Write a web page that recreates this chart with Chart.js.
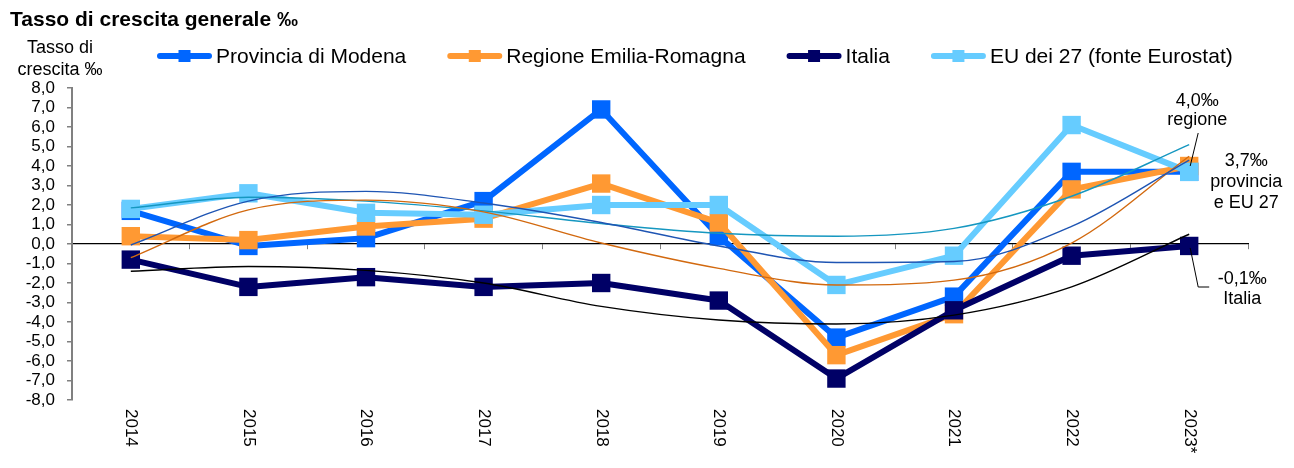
<!DOCTYPE html>
<html>
<head>
<meta charset="utf-8">
<script src="https://cdn.jsdelivr.net/npm/chart.js@4.4.1/dist/chart.umd.min.js"></script>
<style>
  html, body { margin: 0; padding: 0; background: #fff; }
  #wrap { width: 1294px; height: 468px; }
</style>
</head>
<body>
<div id="wrap"><canvas id="chart"></canvas></div>
<script>
// Tasso di crescita generale ‰
const YEARS = ['2014', '2015', '2016', '2017', '2018', '2019', '2020', '2021', '2022', '2023*'];

const MODENA   = [1.7, -0.1, 0.3, 2.2, 6.9, 0.4, -4.8, -2.7, 3.7, 3.7];
const REGIONE  = [0.4, 0.2, 0.9, 1.3, 3.1, 1.1, -5.7, -3.6, 2.8, 4.0];
const ITALIA   = [-0.8, -2.2, -1.7, -2.2, -2.0, -2.9, -6.9, -3.4, -0.6, -0.1];
const EU27     = [1.8, 2.6, 1.6, 1.5, 2.0, 2.0, -2.1, -0.6, 6.1, 3.7];

// thin trend lines at each year
const MODENA_TREND  = [-0.05, 2.2, 2.7, 2.1, 1.1, -0.1, -0.95, -0.9, 0.9, 4.3];
const REGIONE_TREND = [-0.7, 1.75, 2.25, 1.65, 0.05, -1.25, -2.1, -1.85, 0.05, 4.5];
const ITALIA_TREND  = [-1.4, -1.15, -1.35, -2.0, -3.2, -3.9, -4.1, -3.65, -2.2, 0.5];
const EU27_TREND    = [1.85, 2.4, 2.2, 1.7, 1.05, 0.55, 0.4, 0.8, 2.45, 5.1];

const Y_MIN = -8;
const Y_MAX = 8;
const Y_STEP = 1;

const FONT = "'Liberation Sans', Arial, sans-serif";

function mainSeries(label, data, color, order) {
  return {
    label, data, order,
    borderColor: color,
    backgroundColor: color,
    borderWidth: 6,
    borderJoinStyle: 'round',
    pointStyle: 'rect',
    pointRadius: 13,
    pointBorderWidth: 0,
    pointBackgroundColor: color,
    tension: 0,
  };
}

function trendSeries(data, color) {
  return {
    label: '_trend', data, order: 0,
    borderColor: color,
    borderWidth: 1.4,
    pointRadius: 0,
    cubicInterpolationMode: 'monotone',
    fill: false,
  };
}

// titles, legend, rotated year labels and end-of-line notes
const decor = {
  id: 'decor',
  afterDraw(chart) {
    const { ctx, chartArea } = chart;
    const xs = chart.scales.x, ys = chart.scales.y;
    ctx.save();
    ctx.fillStyle = '#000';
    ctx.textBaseline = 'alphabetic';

    ctx.font = 'bold 21px ' + FONT;
    ctx.textAlign = 'left';
    ctx.fillText('Tasso di crescita generale ‰', 10, 26);

    ctx.font = '18px ' + FONT;
    ctx.textAlign = 'center';
    ctx.fillText('Tasso di', 60, 53);
    ctx.fillText('crescita ‰', 60, 75);

    // legend
    ctx.font = '21px ' + FONT;
    ctx.textAlign = 'left';
    let lx = 157;
    const ly = 56;
    chart.data.datasets.slice(0, 4).forEach(ds => {
      ctx.strokeStyle = ds.borderColor;
      ctx.lineWidth = 6;
      ctx.lineCap = 'round';
      ctx.beginPath();
      ctx.moveTo(lx + 3, ly);
      ctx.lineTo(lx + 52, ly);
      ctx.stroke();
      ctx.fillStyle = ds.borderColor;
      ctx.fillRect(lx + 21.5, ly - 6, 12, 12);
      ctx.fillStyle = '#000';
      ctx.fillText(ds.label, lx + 59, ly + 7);
      lx += 59 + ctx.measureText(ds.label).width + 41;
    });

    // year labels, turned clockwise
    ctx.font = '17px ' + FONT;
    YEARS.forEach((yr, i) => {
      ctx.save();
      ctx.translate(xs.getPixelForValue(i), chartArea.bottom + 9);
      ctx.rotate(Math.PI / 2);
      ctx.textAlign = 'left';
      ctx.textBaseline = 'middle';
      ctx.fillText(yr, 0, 0);
      ctx.restore();
    });

    // notes on the last year
    const last = YEARS.length - 1;
    const px = xs.getPixelForValue(last);
    const pReg = ys.getPixelForValue(REGIONE[last]);
    const pIta = ys.getPixelForValue(ITALIA[last]);
    ctx.font = '18px ' + FONT;
    ctx.textAlign = 'center';
    ctx.fillText('4,0‰', px + 8, 106);
    ctx.fillText('regione', px + 8, 125);
    ctx.fillText('3,7‰', px + 57, 166);
    ctx.fillText('provincia', px + 57, 187);
    ctx.fillText('e EU 27', px + 57, 208);
    ctx.fillText('-0,1‰', px + 53, 284);
    ctx.fillText('Italia', px + 53, 304);

    ctx.strokeStyle = '#000';
    ctx.lineWidth = 1;
    ctx.lineCap = 'butt';
    ctx.beginPath();
    ctx.moveTo(px + 9, 133);
    ctx.lineTo(px + 1, pReg);
    ctx.moveTo(px + 1, pIta + 2);
    ctx.lineTo(px + 9, 287);
    ctx.lineTo(px + 20, 287);
    ctx.stroke();
    ctx.restore();
  }
};

new Chart(document.getElementById('chart'), {
  type: 'line',
  data: {
    labels: YEARS,
    datasets: [
      mainSeries('Provincia di Modena', MODENA, '#0066ff', 4),
      mainSeries('Regione Emilia-Romagna', REGIONE, '#ff9933', 3),
      mainSeries('Italia', ITALIA, '#000066', 2),
      mainSeries('EU dei 27 (fonte Eurostat)', EU27, '#66ccff', 1),
      trendSeries(MODENA_TREND, '#1f55b3'),
      trendSeries(REGIONE_TREND, '#d2690f'),
      trendSeries(ITALIA_TREND, '#000000'),
      trendSeries(EU27_TREND, '#1597c0'),
    ]
  },
  options: {
    responsive: true,
    maintainAspectRatio: false,
    animation: false,
    layout: { padding: { top: 88, bottom: 68, left: 0, right: 46 } },
    plugins: {
      legend: { display: false },
      tooltip: { enabled: false },
    },
    scales: {
      x: {
        offset: true,
        position: { y: 0 },
        grid: { offset: true, drawOnChartArea: false, drawTicks: true, tickLength: 5, color: '#808080' },
        border: { color: '#000', width: 1.2 },
        ticks: { display: false },
      },
      y: {
        min: Y_MIN, max: Y_MAX,
        afterFit: s => { s.width = 72; },
        grid: { drawOnChartArea: false, drawTicks: true, tickLength: 5, color: '#808080', lineWidth: 1.5 },
        border: { color: '#808080', width: 2 },
        ticks: {
          stepSize: Y_STEP,
          autoSkip: false,
          padding: 12,
          color: '#000',
          font: { family: FONT, size: 17 },
          callback: v => v.toFixed(1).replace('.', ','),
        },
      },
    },
  },
  plugins: [decor],
});
</script>
</body>
</html>
